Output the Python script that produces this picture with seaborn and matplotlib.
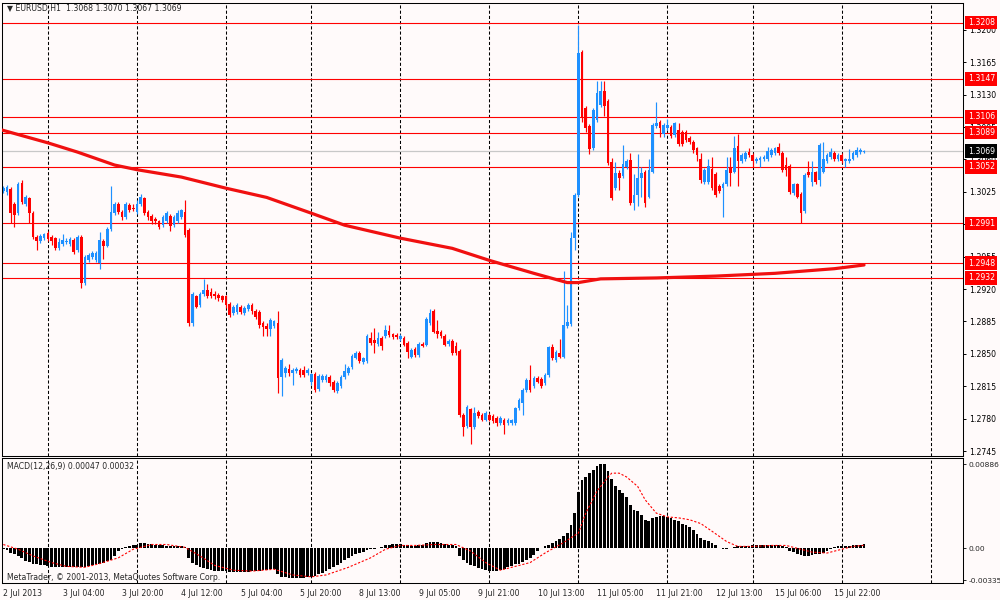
import numpy as np
import pandas as pd
import seaborn as sns
import matplotlib
matplotlib.use('Agg')
import matplotlib.pyplot as plt

# EURUSD H1 candles, 2 Jul 2013 12:00 .. 16 Jul 2013 06:00
opens = [
    1.3026, 1.3025, 1.3028, 1.3012, 1.3002, 1.3035, 1.3012, 1.3018, 1.3002, 1.2976,  # 0
    1.2972, 1.2975, 1.2981, 1.2976, 1.2975, 1.2964, 1.2969, 1.2971, 1.2969, 1.2973,  # 10
    1.2962, 1.2976, 1.2926, 1.2951, 1.2955, 1.2951, 1.2948, 1.2972, 1.2967, 1.2985,  # 20
    1.3002, 1.3012, 1.3003, 1.2998, 1.3011, 1.3008, 1.3003, 1.3012, 1.3018, 1.3003,  # 30
    1.2999, 1.2996, 1.2993, 1.2989, 1.2993, 1.2999, 1.2989, 1.2993, 1.2998, 1.3003,  # 40
    1.2984, 1.2883, 1.2912, 1.2903, 1.2915, 1.2919, 1.2917, 1.2915, 1.2914, 1.2912,  # 50
    1.2912, 1.2904, 1.2894, 1.2895, 1.2901, 1.2894, 1.2898, 1.2903, 1.2896, 1.2895,  # 60
    1.2883, 1.2880, 1.2877, 1.2880, 1.2883, 1.2825, 1.2829, 1.2834, 1.2829, 1.2831,  # 70
    1.2833, 1.2832, 1.2829, 1.2820, 1.2828, 1.2812, 1.2822, 1.2822, 1.2825, 1.2820,  # 80
    1.2810, 1.2815, 1.2825, 1.2829, 1.2836, 1.2846, 1.2851, 1.2841, 1.2842, 1.2867,  # 90
    1.2865, 1.2861, 1.2867, 1.2869, 1.2875, 1.2871, 1.2870, 1.2866, 1.2867, 1.2862,  # 100
    1.2847, 1.2855, 1.2849, 1.2861, 1.2860, 1.2883, 1.2896, 1.2875, 1.2874, 1.2869,  # 110
    1.2861, 1.2864, 1.2858, 1.2853, 1.2784, 1.2772, 1.2790, 1.2771, 1.2787, 1.2784,  # 120
    1.2779, 1.2784, 1.2783, 1.2781, 1.2775, 1.2779, 1.2775, 1.2775, 1.2775, 1.2791,  # 130
    1.2797, 1.2811, 1.2822, 1.2815, 1.2824, 1.2823, 1.2818, 1.2827, 1.2857, 1.2843,  # 140
    1.2851, 1.2847, 1.2880, 1.2882, 1.2975, 1.3022, 1.3176, 1.3116, 1.3096, 1.3072,  # 150
    1.3103, 1.3119, 1.3134, 1.3123, 1.3057, 1.3029, 1.3045, 1.3042, 1.3052, 1.3059,  # 160
    1.3013, 1.3022, 1.3040, 1.3047, 1.3020, 1.3047, 1.3096, 1.3101, 1.3088, 1.3094,  # 170
    1.3095, 1.3086, 1.3092, 1.3090, 1.3090, 1.3083, 1.3079, 1.3072, 1.3061, 1.3036,  # 180
    1.3036, 1.3050, 1.3044, 1.3031, 1.3029, 1.3033, 1.3052, 1.3047, 1.3075, 1.3058,  # 190
    1.3060, 1.3068, 1.3065, 1.3058, 1.3059, 1.3060, 1.3060, 1.3065, 1.3067, 1.3073,  # 200
    1.3067, 1.3054, 1.3053, 1.3024, 1.3033, 1.3023, 1.3004, 1.3047, 1.3036, 1.3046,  # 210
    1.3038, 1.3047, 1.3058, 1.3063, 1.3067, 1.3060, 1.3065, 1.3058, 1.3058, 1.3061,  # 220
    1.3065, 1.3068, 1.3068,                                                          # 230
]
highs = [
    1.3031, 1.3032, 1.3030, 1.3014, 1.3036, 1.3038, 1.3022, 1.3020, 1.3004, 1.2978,
    1.2979, 1.2981, 1.2983, 1.2978, 1.2976, 1.2975, 1.2979, 1.2975, 1.2976, 1.2975,
    1.2978, 1.2978, 1.2957, 1.2959, 1.2961, 1.2961, 1.2982, 1.2974, 1.2987, 1.3031,
    1.3014, 1.3014, 1.3005, 1.3014, 1.3013, 1.3012, 1.3016, 1.3023, 1.3020, 1.3005,
    1.3001, 1.2998, 1.2995, 1.3000, 1.3004, 1.3001, 1.3000, 1.3005, 1.3007, 1.3016,
    1.2986, 1.2917, 1.2914, 1.2917, 1.2931, 1.2925, 1.2921, 1.2918, 1.2916, 1.2914,
    1.2914, 1.2906, 1.2903, 1.2905, 1.2903, 1.2902, 1.2905, 1.2905, 1.2898, 1.2897,
    1.2885, 1.2883, 1.2889, 1.2887, 1.2896, 1.2845, 1.2837, 1.2839, 1.2835, 1.2836,
    1.2835, 1.2837, 1.2835, 1.2829, 1.2830, 1.2828, 1.2828, 1.2828, 1.2827, 1.2822,
    1.2821, 1.2827, 1.2839, 1.2837, 1.2850, 1.2853, 1.2853, 1.2847, 1.2871, 1.2874,
    1.2878, 1.2874, 1.2869, 1.2881, 1.2881, 1.2873, 1.2872, 1.2871, 1.2869, 1.2864,
    1.2856, 1.2857, 1.2863, 1.2863, 1.2890, 1.2898, 1.2898, 1.2887, 1.2876, 1.2871,
    1.2866, 1.2866, 1.2863, 1.2855, 1.2786, 1.2795, 1.2792, 1.2793, 1.2789, 1.2786,
    1.2788, 1.2786, 1.2785, 1.2783, 1.2783, 1.2781, 1.2781, 1.2780, 1.2793, 1.2802,
    1.2813, 1.2824, 1.2838, 1.2826, 1.2826, 1.2825, 1.2829, 1.2859, 1.2861, 1.2854,
    1.2866, 1.2940, 1.2903, 1.2982, 1.3024, 1.3205, 1.3178, 1.3118, 1.3098, 1.3116,
    1.3145, 1.3145, 1.3145, 1.3125, 1.3062, 1.3057, 1.3049, 1.3076, 1.3060, 1.3067,
    1.3044, 1.3066, 1.3052, 1.3049, 1.3060, 1.3099, 1.3122, 1.3103, 1.3099, 1.3104,
    1.3097, 1.3101, 1.3099, 1.3092, 1.3092, 1.3085, 1.3081, 1.3074, 1.3067, 1.3051,
    1.3060, 1.3063, 1.3046, 1.3033, 1.3036, 1.3063, 1.3063, 1.3085, 1.3088, 1.3067,
    1.3069, 1.3072, 1.3067, 1.3063, 1.3064, 1.3065, 1.3074, 1.3072, 1.3074, 1.3078,
    1.3069, 1.3063, 1.3055, 1.3035, 1.3035, 1.3025, 1.3045, 1.3058, 1.3058, 1.3048,
    1.3078, 1.3079, 1.3067, 1.3072, 1.3069, 1.3067, 1.3067, 1.3062, 1.3071, 1.3069,
    1.3074, 1.3072, 1.3070,
]
lows = [
    1.3024, 1.3022, 1.2991, 1.2987, 1.3000, 1.3012, 1.3010, 1.2991, 1.2974, 1.2962,
    1.2970, 1.2973, 1.2972, 1.2968, 1.2962, 1.2962, 1.2967, 1.2969, 1.2966, 1.2958,
    1.2960, 1.2921, 1.2924, 1.2949, 1.2953, 1.2949, 1.2942, 1.2953, 1.2965, 1.2983,
    1.3000, 1.3001, 1.2995, 1.2996, 1.3003, 1.3004, 1.3001, 1.3010, 1.3000, 1.2995,
    1.2990, 1.2990, 1.2985, 1.2987, 1.2991, 1.2983, 1.2987, 1.2991, 1.2996, 1.2976,
    1.2880, 1.2880, 1.2899, 1.2901, 1.2913, 1.2910, 1.2910, 1.2909, 1.2907, 1.2906,
    1.2900, 1.2890, 1.2892, 1.2893, 1.2893, 1.2892, 1.2896, 1.2893, 1.2888, 1.2878,
    1.2869, 1.2869, 1.2869, 1.2878, 1.2808, 1.2804, 1.2825, 1.2826, 1.2816, 1.2829,
    1.2825, 1.2825, 1.2827, 1.2816, 1.2809, 1.2810, 1.2820, 1.2820, 1.2815, 1.2809,
    1.2808, 1.2813, 1.2823, 1.2827, 1.2834, 1.2844, 1.2840, 1.2839, 1.2840, 1.2860,
    1.2851, 1.2859, 1.2854, 1.2867, 1.2868, 1.2866, 1.2866, 1.2864, 1.2858, 1.2845,
    1.2845, 1.2847, 1.2847, 1.2857, 1.2858, 1.2881, 1.2872, 1.2867, 1.2867, 1.2858,
    1.2859, 1.2849, 1.2849, 1.2782, 1.2761, 1.2770, 1.2753, 1.2769, 1.2781, 1.2777,
    1.2777, 1.2777, 1.2775, 1.2772, 1.2773, 1.2763, 1.2773, 1.2773, 1.2773, 1.2789,
    1.2784, 1.2809, 1.2809, 1.2813, 1.2818, 1.2813, 1.2816, 1.2825, 1.2843, 1.2841,
    1.2845, 1.2845, 1.2878, 1.2880, 1.2962, 1.3020, 1.3100, 1.3090, 1.3066, 1.3070,
    1.3101, 1.3117, 1.3107, 1.3054, 1.3016, 1.3027, 1.3027, 1.3040, 1.3050, 1.3011,
    1.3005, 1.3010, 1.3020, 1.3009, 1.3018, 1.3045, 1.3094, 1.3084, 1.3084, 1.3092,
    1.3083, 1.3084, 1.3075, 1.3075, 1.3079, 1.3077, 1.3067, 1.3058, 1.3035, 1.3034,
    1.3034, 1.3027, 1.3020, 1.3024, 1.2998, 1.3031, 1.3031, 1.3045, 1.3031, 1.3056,
    1.3058, 1.3063, 1.3052, 1.3056, 1.3052, 1.3058, 1.3058, 1.3063, 1.3065, 1.3065,
    1.3047, 1.3042, 1.3023, 1.3022, 1.3018, 1.2991, 1.3002, 1.3041, 1.3031, 1.3034,
    1.3031, 1.3045, 1.3056, 1.3061, 1.3058, 1.3058, 1.3056, 1.3052, 1.3056, 1.3059,
    1.3063, 1.3066, 1.3067,
]
closes = [
    1.3029, 1.3030, 1.3002, 1.3000, 1.3034, 1.3014, 1.3020, 1.3002, 1.2976, 1.2972,
    1.2977, 1.2979, 1.2974, 1.2972, 1.2964, 1.2971, 1.2973, 1.2972, 1.2974, 1.2960,
    1.2976, 1.2926, 1.2955, 1.2957, 1.2959, 1.2959, 1.2973, 1.2967, 1.2985, 1.3003,
    1.3012, 1.3003, 1.2998, 1.3012, 1.3005, 1.3006, 1.3012, 1.3020, 1.3002, 1.2998,
    1.2993, 1.2993, 1.2987, 1.2998, 1.3002, 1.2988, 1.2998, 1.3002, 1.3005, 1.2978,
    1.2883, 1.2915, 1.2901, 1.2915, 1.2919, 1.2912, 1.2912, 1.2912, 1.2910, 1.2908,
    1.2903, 1.2892, 1.2901, 1.2903, 1.2895, 1.2899, 1.2903, 1.2896, 1.2890, 1.2881,
    1.2879, 1.2877, 1.2887, 1.2885, 1.2824, 1.2843, 1.2835, 1.2829, 1.2833, 1.2834,
    1.2827, 1.2827, 1.2833, 1.2828, 1.2811, 1.2826, 1.2826, 1.2826, 1.2819, 1.2811,
    1.2819, 1.2825, 1.2831, 1.2835, 1.2848, 1.2851, 1.2842, 1.2845, 1.2869, 1.2862,
    1.2862, 1.2867, 1.2858, 1.2876, 1.2870, 1.2868, 1.2868, 1.2869, 1.2860, 1.2852,
    1.2854, 1.2849, 1.2861, 1.2859, 1.2888, 1.2894, 1.2874, 1.2871, 1.2869, 1.2860,
    1.2864, 1.2851, 1.2851, 1.2784, 1.2771, 1.2793, 1.2771, 1.2786, 1.2783, 1.2779,
    1.2786, 1.2779, 1.2777, 1.2775, 1.2781, 1.2773, 1.2779, 1.2778, 1.2791, 1.2800,
    1.2811, 1.2822, 1.2811, 1.2824, 1.2820, 1.2815, 1.2827, 1.2857, 1.2845, 1.2852,
    1.2847, 1.2881, 1.2884, 1.2975, 1.3022, 1.3175, 1.3105, 1.3094, 1.3071, 1.3114,
    1.3132, 1.3134, 1.3118, 1.3056, 1.3018, 1.3045, 1.3040, 1.3055, 1.3058, 1.3013,
    1.3022, 1.3040, 1.3045, 1.3013, 1.3049, 1.3097, 1.3099, 1.3094, 1.3097, 1.3097,
    1.3085, 1.3099, 1.3077, 1.3077, 1.3081, 1.3079, 1.3070, 1.3065, 1.3038, 1.3049,
    1.3053, 1.3029, 1.3022, 1.3026, 1.3034, 1.3049, 1.3045, 1.3072, 1.3058, 1.3065,
    1.3067, 1.3065, 1.3058, 1.3061, 1.3062, 1.3063, 1.3069, 1.3070, 1.3072, 1.3067,
    1.3049, 1.3049, 1.3025, 1.3033, 1.3020, 1.3002, 1.3043, 1.3043, 1.3047, 1.3036,
    1.3076, 1.3061, 1.3065, 1.3068, 1.3060, 1.3065, 1.3058, 1.3060, 1.3061, 1.3067,
    1.3070, 1.3070, 1.3069,
]

# MACD(12,26,9) histogram per bar, in units of 0.0001
macd_hist = [
    -1, -2, -4.5, -6, -8, -10, -13, -14.5, -16, -17,
    -17.5, -18, -19, -19.5, -20, -20, -20, -20, -20, -20,
    -20, -20, -19.5, -19, -18, -17, -16, -15, -13, -12,
    -8, -3, -1, 1, 2, 3, 4, 6, 5.5, 5,
    4.5, 4, 3.5, 3, 2.5, 2.5, 2, 2, 2, 1,
    -10, -15, -18, -20, -21, -22, -23, -24, -24, -24,
    -24, -25, -25, -25, -25, -25, -24.5, -24, -24, -23.5,
    -23, -22.5, -22, -22, -27, -30, -30.5, -31, -31, -31,
    -31, -31, -30.5, -30, -29, -27, -25.5, -24, -22, -20,
    -18, -15, -12, -10, -8, -6, -5, -3.5, -2, -1,
    -0.5, 0.5, 1.5, 3, 4, 5, 5, 5, 4, 3,
    2.5, 2.5, 3, 4, 5.5, 7, 7, 7, 6, 5,
    4, 3, 2, -8, -12, -15, -18, -19, -21, -22,
    -23, -24, -24, -23.5, -23, -22, -20, -19, -17, -16,
    -14, -12, -10, -7, -3, 0, 2, 4, 6, 8,
    10, 13, 16, 25, 37, 59, 72, 75, 79, 82,
    86, 88.6, 88.6, 81, 73, 66, 61, 58, 54, 46,
    40, 39, 35, 30, 29, 32, 33, 34, 34, 33,
    32, 30, 29, 26, 24, 22, 19, 15, 11, 9,
    8, 6, 3, 0.5, -1, -1, 0, 1.5, 2, 2,
    2, 2.5, 3, 3, 3, 3, 3, 3, 3, 3,
    2, 1.5, -3, -4, -6, -7, -8, -8, -7, -6,
    -5.5, -5, -3, -1, 1, 2, 2, 2, 2.5, 3,
    3.5, 4, 4.7,
]
# signal line, read at these bars (units of 0.0001)
signal_bars = [0, 4, 8, 13, 17, 22, 26, 31, 35, 40, 44, 49, 53, 57, 62, 67, 73, 78,
               83, 87, 93, 99, 103, 107, 111, 116, 122, 126, 130, 134, 137, 142, 146,
               151, 155, 157, 160, 163, 164, 166, 168, 171, 173, 176, 179, 182, 185,
               188, 191, 195, 198, 202, 207, 211, 215, 218, 222, 226, 229, 232]
signal_vals = [4, -1, -8, -15, -19, -20, -16, -10, -1, 4, 4, 1, -8, -18, -23, -24, -22,
               -28, -30, -28, -20, -10, -1, 3, 3, 4, 4, -3, -15, -23, -20, -15, -5,
               6, 16, 37, 60, 75, 79, 79, 75, 65, 51, 37, 33, 32, 30, 26, 18, 7,
               2, 2, 3, 3, -1, -4, -5, -1, 2, 3.2]

# moving average (thick red line), read at these bars
ma_bars = [-0.5, 12, 20, 30, 36, 48, 60, 71, 83, 92, 107, 121, 131, 143, 152, 155,
           161, 176, 192, 208, 224, 232]
ma_vals = [1.3092, 1.3078, 1.3068, 1.3054, 1.3049, 1.3041, 1.3029, 1.3019, 1.3002,
           1.2989, 1.2975, 1.2964, 1.2951, 1.2937, 1.2927, 1.2927, 1.2931, 1.2932,
           1.2934, 1.2937, 1.2942, 1.2946]

levels = [1.3208, 1.3147, 1.3106, 1.3089, 1.3052, 1.2991, 1.2948, 1.2932]
last_price = 1.3069
price_ticks = [1.2745, 1.2780, 1.2815, 1.2850, 1.2885, 1.2920, 1.2955, 1.2990,
               1.3025, 1.3060, 1.3095, 1.3130, 1.3165, 1.3200]
day_bars = [12, 36, 60, 83, 107, 131, 155, 179, 202, 226, 250]
date_bars = [0, 16, 32, 48, 64, 80, 96, 112, 128, 144, 160, 176, 192, 208, 224]
date_labels = ['2 Jul 2013', '3 Jul 04:00', '3 Jul 20:00', '4 Jul 12:00', '5 Jul 04:00',
               '5 Jul 20:00', '8 Jul 13:00', '9 Jul 05:00', '9 Jul 21:00', '10 Jul 13:00',
               '11 Jul 05:00', '11 Jul 21:00', '12 Jul 13:00', '15 Jul 06:00',
               '15 Jul 22:00']

assert len(opens) == len(highs) == len(lows) == len(closes) == len(macd_hist) == 233

BG = '#fffafa'
BLUE = '#1e90ff'
RED = '#ff0000'

sns.set_style('white')
plt.rcParams['font.family'] = ['DejaVu Sans']
plt.rcParams['font.size'] = 5.6
plt.rcParams['axes.linewidth'] = 0.75
plt.rcParams['axes.unicode_minus'] = False

df = pd.DataFrame({'o': opens, 'h': highs, 'l': lows, 'c': closes})
df['bar'] = np.arange(len(df))
df['col'] = np.where(df.c >= df.o, BLUE, RED)
df['body'] = (df.c - df.o).abs().clip(lower=0.00008)
df['bot'] = df[['o', 'c']].min(axis=1)

fig = plt.figure(figsize=(10, 6), dpi=100, facecolor=BG)
ax = fig.add_axes([0.0015, 0.24, 0.9618, 0.755], facecolor=BG)
ax2 = fig.add_axes([0.0015, 0.02833, 0.9618, 0.2083], facecolor=BG)

XMIN, XMAX = -0.49, 258.76

# ---- main price panel
for g in day_bars:
    ax.axvline(g, color='black', lw=0.75, ls=(0, (3, 2)), zorder=1)
ax.axhline(last_price, color='#c8c8c8', lw=0.9, zorder=1)
for p in levels:
    ax.axhline(p, color=RED, lw=0.8, zorder=1.2)

ax.vlines(df.bar, df.l, df.h, colors=df.col, lw=0.85, zorder=2)
ax.bar(df.bar, df.body, bottom=df.bot, width=0.72, color=df.col, linewidth=0, zorder=2.1)

sns.lineplot(x=ma_bars, y=ma_vals, ax=ax, color='#f01010', linewidth=2.3, zorder=3)

ax.set_xlim(XMIN, XMAX)
ax.set_ylim(1.27396, 1.32291)
ax.set_xticks([])
ax.yaxis.tick_right()
ax.set_yticks(price_ticks, [f'{t:.4f}' for t in price_ticks])
ax.tick_params(axis='y', direction='out', length=2.5, width=0.7, pad=1.5,
               labelsize=5.6, colors='black')
ax.set_xlabel('')
ax.set_ylabel('')

for p in levels:
    ax.text(1.0045, p, f'{p:.4f}', transform=ax.get_yaxis_transform(), ha='left',
            va='center', color='white', fontsize=5.6, clip_on=False, zorder=6,
            bbox=dict(boxstyle='square,pad=0.28', fc=RED, ec='none'))
ax.text(1.0045, last_price, f'{last_price:.4f}', transform=ax.get_yaxis_transform(),
        ha='left', va='center', color='white', fontsize=5.6, clip_on=False, zorder=6,
        bbox=dict(boxstyle='square,pad=0.28', fc='black', ec='none'))

# ---- MACD panel
hist = pd.DataFrame({'bar': np.arange(len(macd_hist)),
                     'val': np.array(macd_hist) * 1e-4})
sns.barplot(data=hist, x='bar', y='val', native_scale=True, color='black',
            saturation=1, width=0.75, errorbar=None, linewidth=0, ax=ax2, zorder=2)
sns.lineplot(x=signal_bars, y=np.array(signal_vals) * 1e-4, ax=ax2, color=RED,
             linewidth=0.8, linestyle=(0, (2, 1.6)), zorder=3)
for g in day_bars:
    ax2.axvline(g, color='black', lw=0.75, ls=(0, (3, 2)), zorder=1)

ax2.set_xlim(XMIN, XMAX)
ax2.set_ylim(-0.003647, 0.009491)
ax2.yaxis.tick_right()
ax2.set_yticks([0.00886, 0.0, -0.00335], ['0.00886', '0.00', '-0.00335'])
ax2.tick_params(axis='y', direction='out', length=2.5, width=0.7, pad=1.2, labelsize=5.4)
ax2.set_xticks(date_bars, date_labels)
for lab in ax2.get_xticklabels():
    lab.set_horizontalalignment('left')
ax2.tick_params(axis='x', direction='out', length=3, width=0.7, pad=1.5, labelsize=5.6)
ax2.set_xlabel('')
ax2.set_ylabel('')

for a in (ax, ax2):
    for s in a.spines.values():
        s.set_visible(True)
        s.set_color('black')
        s.set_linewidth(0.75)

fig.text(0.007, 1 - 9 / 600, '\u25bc EURUSD,H1  1.3068 1.3070 1.3067 1.3069',
         va='center', ha='left', fontsize=5.6)
fig.text(0.007, 1 - 467 / 600, 'MACD(12,26,9) 0.00047 0.00032',
         va='center', ha='left', fontsize=5.6)
fig.text(0.007, 1 - 577 / 600, 'MetaTrader, \u00a9 2001-2013, MetaQuotes Software Corp.',
         va='center', ha='left', fontsize=5.6)

fig.savefig('out.png', dpi=100, facecolor=BG)
